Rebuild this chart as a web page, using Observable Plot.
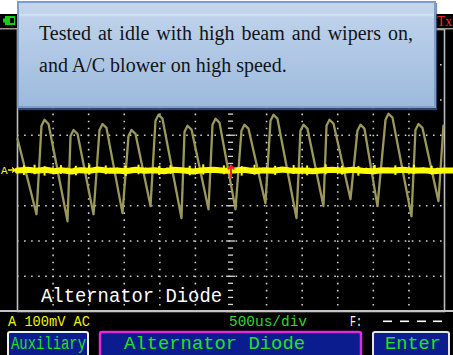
<!DOCTYPE html>
<html>
<head>
<meta charset="utf-8">
<script src="https://cdn.jsdelivr.net/npm/d3@7"></script>
<script src="https://cdn.jsdelivr.net/npm/@observablehq/plot@0.6"></script>
<style>
  html, body { margin: 0; padding: 0; background: #fff; }
  #wrap { position: relative; width: 453px; height: 355px; overflow: hidden; }
  #screen { position: absolute; left: 0; top: 14px; width: 453px; height: 341px; background: #000; }
  #chart { position: absolute; left: 0; top: 0; }
  #ui { position: absolute; left: 0; top: 0; }
  #note {
    position: absolute; left: 17px; top: 1px; width: 419px; height: 107px;
    box-sizing: border-box; border: 2px solid #7d9ec9;
    background: linear-gradient(180deg, #c3d6ed 0%, #bfd3eb 10%, #d6e4f3 11.5%, #bdd1ea 13.5%, #9dbadd 100%);
    box-shadow: 1px 2px 1px rgba(70, 100, 150, 0.7);
    padding: 14px 21px 0 20px;
    font-family: "Liberation Serif", "Times New Roman", serif; font-size: 20px; line-height: 32px;
    color: #141414; text-align: justify;
  }
  .mono { font-family: "Liberation Mono", "DejaVu Sans Mono", monospace; }
</style>
</head>
<body>
<div id="wrap">
  <div id="screen"></div>
  <div id="chart"></div>
  <svg id="ui" width="453" height="355" xmlns="http://www.w3.org/2000/svg">
    <!-- status bar -->
    <rect x="5" y="16" width="10" height="9" fill="#12d012"/>
    <rect x="3" y="18.5" width="2.5" height="4" fill="#12d012"/>
    <rect x="10" y="18" width="4" height="5" fill="#000"/>
    <text x="437" y="26" fill="#ff2a1a" font-family="Liberation Serif" font-size="14" textLength="15" lengthAdjust="spacingAndGlyphs">Tx</text>
    <rect x="0" y="28" width="453" height="1.5" fill="#9a9a9a"/>
    <rect x="0" y="310" width="453" height="2" fill="#c4c4c4"/>
    <!-- channel marker -->
    <text class="mono" x="1" y="174" fill="#ffff00" font-size="11">A</text>
    <path d="M8,170 L15,170 M12,167.5 L15,170 L12,172.5" stroke="#ffff00" stroke-width="1.3" fill="none"/>
    <!-- in-screen label -->
    <text class="mono" x="41" y="302" fill="#ffffff" font-size="20" textLength="181" lengthAdjust="spacingAndGlyphs">Alternator Diode</text>
    <!-- readouts -->
    <text class="mono" x="8" y="326" fill="#f2f200" font-size="14" textLength="82" lengthAdjust="spacingAndGlyphs">A 100mV AC</text>
    <text class="mono" x="229" y="326" fill="#2ed82e" font-size="14.5" textLength="78" lengthAdjust="spacingAndGlyphs">500us/div</text>
    <text class="mono" x="350" y="326" fill="#ffffff" font-size="14" textLength="12" lengthAdjust="spacingAndGlyphs">F:</text>
    <rect x="383" y="320.5" width="9" height="1.6" fill="#ffffff"/>
    <rect x="400" y="320.5" width="9" height="1.6" fill="#ffffff"/>
    <rect x="417" y="320.5" width="9" height="1.6" fill="#ffffff"/>
    <rect x="433" y="320.5" width="9" height="1.6" fill="#ffffff"/>
    <!-- soft buttons -->
    <rect x="8" y="332" width="80" height="30" rx="2" fill="#0b1c8f" stroke="#f0f0f0" stroke-width="2"/>
    <text class="mono" x="11" y="348.5" fill="#22e022" font-size="18" textLength="75" lengthAdjust="spacingAndGlyphs">Auxiliary</text>
    <rect x="100" y="332" width="261" height="30" rx="2" fill="#0b1c8f" stroke="#e02ce0" stroke-width="2.5"/>
    <text class="mono" x="124" y="349" fill="#22e022" font-size="18" textLength="181" lengthAdjust="spacingAndGlyphs">Alternator Diode</text>
    <rect x="373" y="332" width="76" height="30" rx="2" fill="#0b1c8f" stroke="#e4e4e4" stroke-width="2"/>
    <text class="mono" x="385" y="349" fill="#22e022" font-size="18" textLength="56" lengthAdjust="spacingAndGlyphs">Enter</text>
  </svg>
  <div id="note">Tested at idle with high beam and wipers on, and A/C blower on high speed.</div>
</div>
<script>
// Ripple waveform (olive): time in µs, value in mV (100 mV/div, 500 µs/div)
const timeUs = [0,
  267,337,379,436, 703,745,787,843, 1068,1152,1194,1250, 1475,1560,1602,1658,
  1869,1939,1981,2037, 2304,2347,2389,2445, 2684,2740,2782,2838, 3063,3147,3189,3245,
  3484,3555,3597,3653, 3920,3976,4018,4074, 4299,4342,4384,4440, 4679,4777,4819,4875,
  5058,5171,5213,5269, 5536,5592,5634,5690, 5915,5985];
const waveMv = [90,
  -124,127,144,132, -144,98,115,104, -124,115,132,121, -121,98,115,104,
  -101,141,158,147, -135,110,127,116, -110,130,147,136, -110,113,130,119,
  -93,141,158,147, -135,113,130,119, -101,127,144,133, -81,113,130,119,
  -101,144,161,150, -130,115,132,121, -87,127];

// Live channel A trace (yellow, near 0 mV)
const traceUs = [0,150,260,400,520,610,760,880,1010,1130,1290,1400,1520,1660,1800,1930,2060,2200,
  2340,2470,2610,2760,2900,3040,3180,3330,3460,3590,3720,3870,4010,4150,4300,4430,4570,4710,
  4850,4990,5130,5280,5420,5560,5700,5850,5990,6126];
const traceMv = [0,2,-1,2,-2,1,-3,1,-1,3,-1,0,-2,2,-1,1,-2,2,0,-3,1,2,-1,0,2,-2,1,-1,3,-1,0,
  -2,1,2,-1,2,-1,-2,1,0,2,-1,1,-2,0,0];
// Noise spikes on the yellow trace: position (µs), low and high (mV)
const spikeUs = [90,240,380,610,820,1010,1240,1520,1700,1990,2150,2420,2610,2900,3150,3330,
  3620,3880,4070,4330,4560,4790,5020,5310,5570,5820];
const spikeLo = [-14,-12,-16,-11,-15,-13,-12,-17,-12,-14,-11,-15,-13,-12,-16,-13,
  -14,-11,-15,-12,-13,-16,-12,-14,-11,-13];
const spikeHi = [13,15,11,14,12,16,13,12,15,11,14,12,16,13,11,15,
  12,14,13,16,12,11,14,13,15,12];

// Graticule
const gridUs = [500,1000,1500,2000,2500,3500,4000,4500,5000,5500];
const gridMv = [-300,-200,-100,100,200,300];
const centerUs = 3000;
const triggerUs = [3000];
const minorMv = d3.range(-400, 401, 20);
const minorUs = d3.range(0, 6001, 100);

const wave = timeUs.map((t, i) => ({t, v: waveMv[i]}));
const trace = traceUs.map((t, i) => ({t, v: traceMv[i]}));
const spikes = spikeUs.map((t, i) => ({t, lo: spikeLo[i], hi: spikeHi[i]}));

const dotted = {stroke: "#cfcfcf", strokeWidth: 1.6, strokeDasharray: "1.6,5.45"};

const chart = Plot.plot({
  width: 453,
  height: 355,
  marginTop: 29,
  marginRight: 9,
  marginBottom: 44,
  marginLeft: 17,
  x: {domain: [0, 6000], axis: null},
  y: {domain: [-400, 400], axis: null},
  style: {background: "transparent", overflow: "visible"},
  marks: [
    Plot.ruleX(gridUs, {x: d => d, ...dotted}),
    Plot.ruleY(gridMv, {y: d => d, ...dotted}),
    Plot.ruleY(minorMv, {
      y: d => d,
      x1: d => centerUs - (d % 100 === 0 ? 62 : 36),
      x2: d => centerUs + (d % 100 === 0 ? 62 : 36),
      stroke: "#d8d8d8", strokeWidth: 1.3
    }),
    Plot.ruleX(minorUs, {
      x: d => d,
      y1: d => (d % 500 === 0 ? -13 : -7),
      y2: d => (d % 500 === 0 ? 13 : 7),
      stroke: "#d8d8d8", strokeWidth: 1.3
    }),
    Plot.frame({stroke: "#bdbdbd", strokeWidth: 1.6}),
    Plot.line(wave, {x: "t", y: "v", stroke: "#9c985a", strokeWidth: 2.3, strokeLinejoin: "round"}),
    Plot.line(trace, {x: "t", y: "v", stroke: "#ffff00", strokeWidth: 6}),
    Plot.ruleX(spikes, {x: "t", y1: "lo", y2: "hi", stroke: "#ffff00", strokeWidth: 2}),
    Plot.arrow(triggerUs, {x: d => d, y1: -20, y2: 14, stroke: "#ff2020", strokeWidth: 2, headLength: 7, headAngle: 80})
  ]
});
document.getElementById("chart").appendChild(chart);
</script>
</body>
</html>
